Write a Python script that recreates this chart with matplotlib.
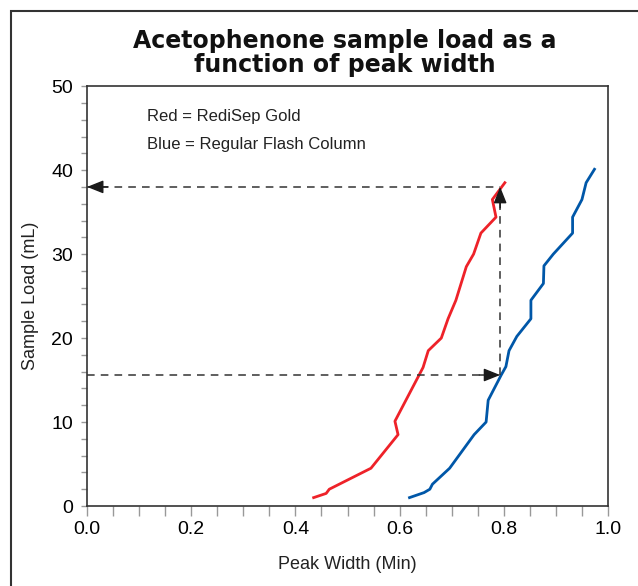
import matplotlib.pyplot as plt
from matplotlib.patches import Rectangle

# RediSep Gold (red) and regular flash column (blue)
red_x = [0.435, 0.459, 0.465, 0.545, 0.597, 0.591, 0.645, 0.655, 0.680, 0.693,
         0.708, 0.728, 0.742, 0.756, 0.785, 0.778, 0.802]
red_y = [1.0, 1.5, 2.0, 4.5, 8.5, 10.1, 16.5, 18.5, 20.0, 22.3,
         24.5, 28.5, 30.0, 32.5, 34.4, 36.5, 38.5]

blue_x = [0.619, 0.647, 0.658, 0.663, 0.696, 0.743, 0.766, 0.770, 0.795, 0.804,
          0.810, 0.825, 0.852, 0.852, 0.876, 0.877, 0.895, 0.932, 0.932, 0.950,
          0.958, 0.974]
blue_y = [1.0, 1.6, 2.0, 2.6, 4.5, 8.5, 10.0, 12.6, 15.6, 16.6,
          18.5, 20.2, 22.3, 24.5, 26.5, 28.6, 30.0, 32.5, 34.4, 36.5,
          38.5, 40.1]

# guide arrows
arrow_x = 0.793
low_y = 15.6
high_y = 38.0

font = ['Liberation Sans', 'DejaVu Sans']

fig = plt.figure(figsize=(6.38, 5.86), dpi=100)
ax = fig.add_axes([0.1364, 0.1365, 0.8166, 0.7165])

# outer frame, cut off on the right and bottom like the reference
fig.patches.append(Rectangle((11 / 638, -0.05), 1.2, 1 - 11 / 586 + 0.05,
                             transform=fig.transFigure, fill=False,
                             edgecolor='#333333', linewidth=1.5))

ax.plot(red_x, red_y, color='#ee2229', linewidth=2)
ax.plot(blue_x, blue_y, color='#0057a8', linewidth=2)

dash = dict(color='#333333', linewidth=1.1, linestyle=(0, (5, 4)))
ax.plot([0, arrow_x], [high_y, high_y], **dash)
ax.plot([arrow_x, arrow_x], [low_y, high_y], **dash)
ax.plot([0, arrow_x], [low_y, low_y], **dash)

head = dict(arrowstyle='-|>,head_length=1.0,head_width=0.4', color='#1a1a1a',
            linewidth=1, shrinkA=0, shrinkB=0)
ax.annotate('', xy=(0, high_y), xytext=(0.04, high_y), arrowprops=head)
ax.annotate('', xy=(arrow_x, high_y), xytext=(arrow_x, high_y - 2.5), arrowprops=head)
ax.annotate('', xy=(arrow_x, low_y), xytext=(arrow_x - 0.04, low_y), arrowprops=head)

ax.text(0.115, 45.9, 'Red = RediSep Gold', fontsize=12, family=font, color='#222222')
ax.text(0.115, 42.5, 'Blue = Regular Flash Column', fontsize=12, family=font, color='#222222')

ax.set_xlim(0, 1.0)
ax.set_ylim(0, 50)
ax.set_xticks([0.0, 0.2, 0.4, 0.6, 0.8, 1.0])
ax.set_xticks([i * 0.05 for i in range(21)], minor=True)
ax.set_yticks([0, 10, 20, 30, 40, 50])
ax.set_yticks(list(range(0, 51, 2)), minor=True)
ax.set_xticklabels(['0.0', '0.2', '0.4', '0.6', '0.8', '1.0'], family=font, fontsize=14)
ax.set_yticklabels(['0', '10', '20', '30', '40', '50'], family=font, fontsize=14)
ax.tick_params(which='both', direction='out', color='#999999', width=1)
ax.tick_params(axis='x', which='both', length=7, pad=4)
ax.tick_params(axis='y', which='both', length=4, pad=6)

ax.set_xlabel('Peak Width (Min)', family=font, fontsize=13, color='#222222')
ax.set_ylabel('Sample Load (mL)', family=font, fontsize=13, color='#222222')
ax.xaxis.set_label_coords(0.5, -0.118)
ax.yaxis.set_label_coords(-0.093, 0.5)

for s in ax.spines.values():
    s.set_color('#333333')
    s.set_linewidth(1.2)

fig.text(0.54, 0.91, 'Acetophenone sample load as a\nfunction of peak width',
         ha='center', va='center', fontsize=17, fontweight='bold',
         family='DejaVu Sans', linespacing=1.0, color='#111111')

fig.savefig('out.png', dpi=100)
